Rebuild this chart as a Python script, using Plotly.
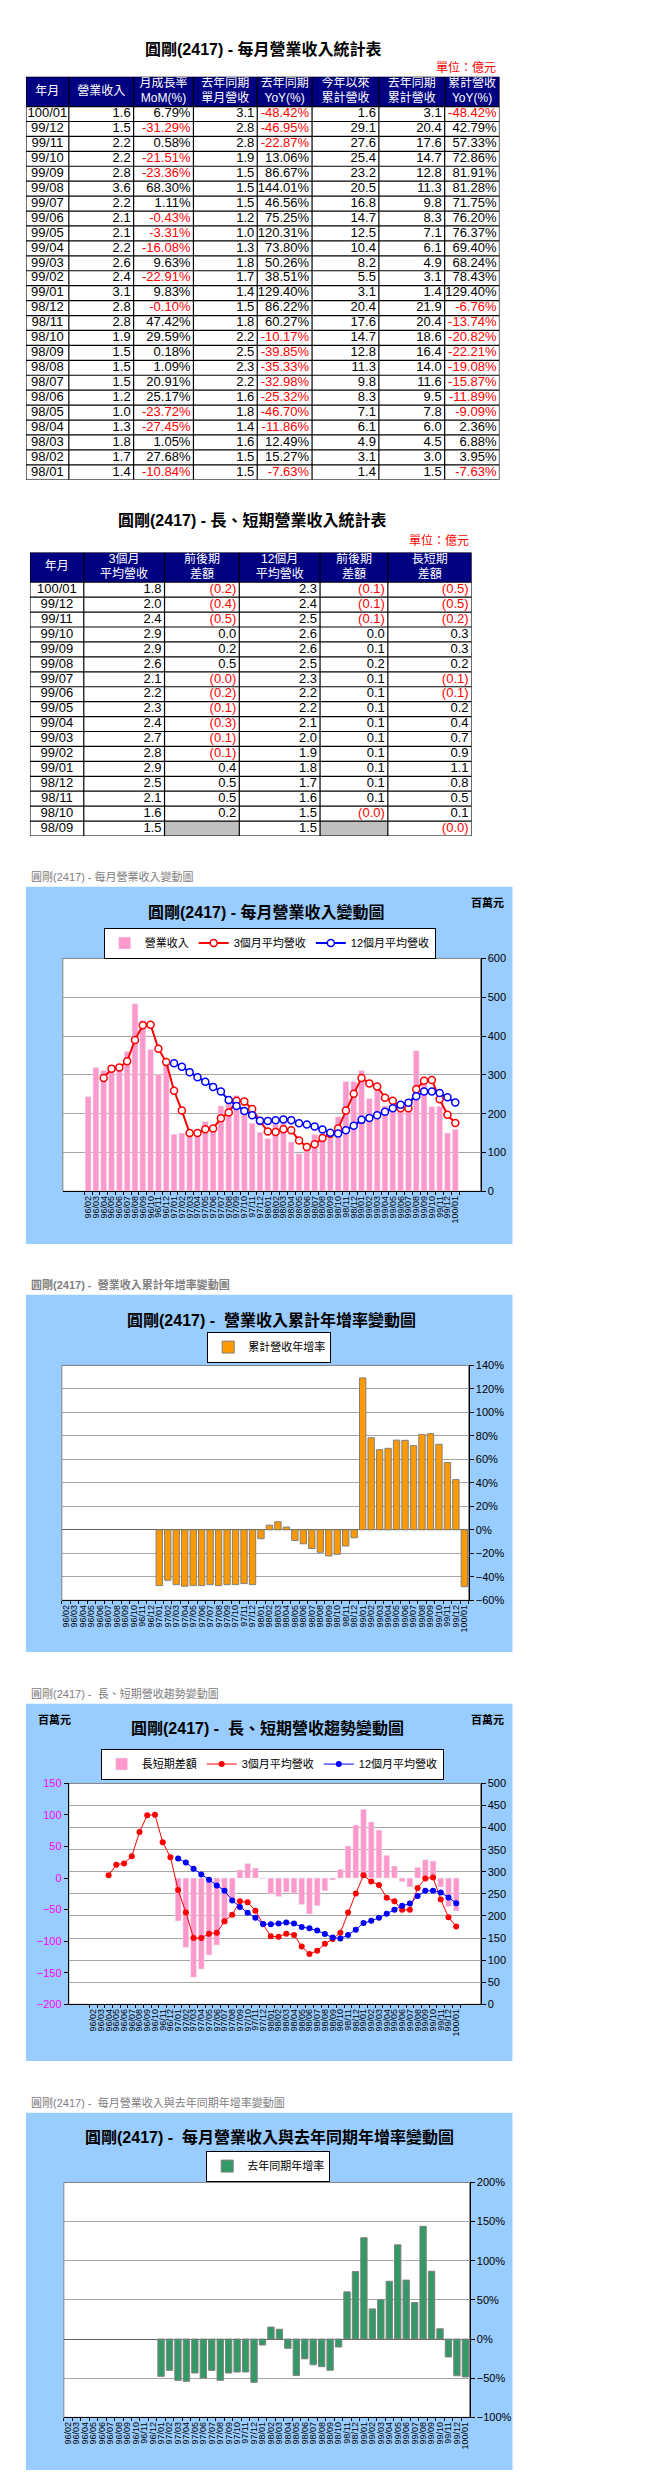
import plotly.graph_objects as go

W, H = 655, 2481

# ---------------- Table 1 data (億元) ----------------
t1_months = ["100/01", "99/12", "99/11", "99/10", "99/09", "99/08", "99/07", "99/06", "99/05",
             "99/04", "99/03", "99/02", "99/01", "98/12", "98/11", "98/10", "98/09", "98/08",
             "98/07", "98/06", "98/05", "98/04", "98/03", "98/02", "98/01"]
t1_revenue = [1.6, 1.5, 2.2, 2.2, 2.8, 3.6, 2.2, 2.1, 2.1, 2.2, 2.6, 2.4, 3.1, 2.8, 2.8, 1.9,
              1.5, 1.5, 1.5, 1.2, 1.0, 1.3, 1.8, 1.7, 1.4]
t1_mom = [6.79, -31.29, 0.58, -21.51, -23.36, 68.30, 1.11, -0.43, -3.31, -16.08, 9.63, -22.91,
          9.83, -0.10, 47.42, 29.59, 0.18, 1.09, 20.91, 25.17, -23.72, -27.45, 1.05, 27.68, -10.84]
t1_ly_rev = [3.1, 2.8, 2.8, 1.9, 1.5, 1.5, 1.5, 1.2, 1.0, 1.3, 1.8, 1.7, 1.4, 1.5, 1.8, 2.2,
             2.5, 2.3, 2.2, 1.6, 1.8, 1.4, 1.6, 1.5, 1.5]
t1_yoy = [-48.42, -46.95, -22.87, 13.06, 86.67, 144.01, 46.56, 75.25, 120.31, 73.80, 50.26,
          38.51, 129.40, 86.22, 60.27, -10.17, -39.85, -35.33, -32.98, -25.32, -46.70, -11.86,
          12.49, 15.27, -7.63]
t1_ytd = [1.6, 29.1, 27.6, 25.4, 23.2, 20.5, 16.8, 14.7, 12.5, 10.4, 8.2, 5.5, 3.1, 20.4, 17.6,
          14.7, 12.8, 11.3, 9.8, 8.3, 7.1, 6.1, 4.9, 3.1, 1.4]
t1_ytd_ly = [3.1, 20.4, 17.6, 14.7, 12.8, 11.3, 9.8, 8.3, 7.1, 6.1, 4.9, 3.1, 1.4, 21.9, 20.4,
             18.6, 16.4, 14.0, 11.6, 9.5, 7.8, 6.0, 4.5, 3.0, 1.5]
t1_ytd_yoy = [-48.42, 42.79, 57.33, 72.86, 81.91, 81.28, 71.75, 76.20, 76.37, 69.40, 68.24,
              78.43, 129.40, -6.76, -13.74, -20.82, -22.21, -19.08, -15.87, -11.89, -9.09, 2.36,
              6.88, 3.95, -7.63]
t1_headers = ["年月", "營業收入", "月成長率<br>MoM(%)", "去年同期<br>單月營收", "去年同期<br>YoY(%)",
              "今年以來<br>累計營收", "去年同期<br>累計營收", "累計營收<br>YoY(%)"]

# ---------------- Table 2 data (億元) ----------------
t2_months = ["100/01", "99/12", "99/11", "99/10", "99/09", "99/08", "99/07", "99/06", "99/05",
             "99/04", "99/03", "99/02", "99/01", "98/12", "98/11", "98/10", "98/09"]
t2_avg3 = [1.8, 2.0, 2.4, 2.9, 2.9, 2.6, 2.1, 2.2, 2.3, 2.4, 2.7, 2.8, 2.9, 2.5, 2.1, 1.6, 1.5]
t2_avg3_diff = [-0.2, -0.4, -0.5, 0.0, 0.2, 0.5, -0.02, -0.2, -0.1, -0.3, -0.1, -0.1, 0.4, 0.5,
                0.5, 0.2, None]
t2_avg12 = [2.3, 2.4, 2.5, 2.6, 2.6, 2.5, 2.3, 2.2, 2.2, 2.1, 2.0, 1.9, 1.8, 1.7, 1.6, 1.5, 1.5]
t2_avg12_diff = [-0.1, -0.1, -0.1, 0.0, 0.1, 0.2, 0.1, 0.1, 0.1, 0.1, 0.1, 0.1, 0.1, 0.1, 0.1,
                 -0.02, None]
t2_ls_diff = [-0.5, -0.5, -0.2, 0.3, 0.3, 0.2, -0.1, -0.1, 0.2, 0.4, 0.7, 0.9, 1.1, 0.8, 0.5,
              0.1, -0.02]
t2_headers = ["年月", "3個月<br>平均營收", "前後期<br>差額", "12個月<br>平均營收", "前後期<br>差額",
              "長短期<br>差額"]

# ---------------- Chart data (百萬元 / %) ----------------
months = ["96/02", "96/03", "96/04", "96/05", "96/06", "96/07", "96/08", "96/09", "96/10",
          "96/11", "96/12", "97/01", "97/02", "97/03", "97/04", "97/05", "97/06", "97/07",
          "97/08", "97/09", "97/10", "97/11", "97/12", "98/01", "98/02", "98/03", "98/04",
          "98/05", "98/06", "98/07", "98/08", "98/09", "98/10", "98/11", "98/12", "99/01",
          "99/02", "99/03", "99/04", "99/05", "99/06", "99/07", "99/08", "99/09", "99/10",
          "99/11", "99/12", "100/01"]
rev_m = [244, 319, 311, 318, 326, 360, 483, 440, 365, 301, 329, 147, 150, 153, 147, 180, 160,
         220, 229, 247, 217, 175, 152, 136, 173, 175, 127, 97, 121, 146, 148, 148, 192, 283,
         283, 311, 239, 262, 220, 213, 212, 215, 362, 278, 218, 219, 150, 160]
avg3_m = [None, None, 292, 316, 319, 335, 390, 428, 429, 367, 333, 259, 208, 150, 150, 160, 162,
          188, 203, 233, 231, 212, 181, 154, 153, 160, 157, 131, 114, 121, 137, 148, 162, 208,
          251, 292, 278, 270, 241, 233, 214, 214, 263, 285, 287, 237, 197, 176]
avg12_m = [None] * 11 + [330, 321, 307, 294, 282, 269, 257, 235, 220, 207, 196, 182, 181, 183,
                         185, 183, 175, 172, 167, 159, 151, 149, 157, 169, 184, 189, 196, 205,
                         214, 223, 228, 245, 257, 257, 253, 242, 229]
ls_diff_m = [None] * 11 + [-68, -110, -157, -144, -122, -106, -73, -33, 13, 23, 16, -1, -25,
                           -29, -22, -24, -42, -57, -44, -20, -3, 14, 51, 84, 109, 89, 76, 36,
                           19, -6, -14, 17, 29, 27, -14, -45, -52]
cum_yoy = [None] * 11 + [-47.5, -43.0, -46.7, -48.0, -47.5, -47.5, -46.7, -47.5, -46.7, -46.7,
                         -45.8, -46.7, -7.63, 3.95, 6.88, 2.36, -9.09, -11.89, -15.87, -19.08,
                         -22.21, -20.82, -13.74, -6.76, 129.40, 78.43, 68.24, 69.40, 76.37,
                         76.20, 71.75, 81.28, 81.91, 72.86, 57.33, 42.79, -48.42]
mon_yoy = [None] * 11 + [-47.7, -40.0, -52.8, -54.0, -43.4, -49.8, -40.0, -52.8, -43.4, -42.1,
                         -42.1, -55.3, -7.63, 15.27, 12.49, -11.86, -46.70, -25.32, -32.98,
                         -35.33, -39.85, -10.17, 60.27, 86.22, 129.40, 38.51, 50.26, 73.80,
                         120.31, 75.25, 46.56, 144.01, 86.67, 13.06, -22.87, -46.95, -48.42]

# ---------------- helpers ----------------
FONT = "Tahoma, 'Liberation Sans Narrow', 'Liberation Sans', 'Noto Sans CJK TC', sans-serif"
CJK = "'Liberation Sans', 'Noto Sans CJK TC', sans-serif"
BLUE_BG = "#99CCFF"
GRID = "#A6A6A6"


def xp(v):
    return v / W


def yp(v):
    return 1 - v / H


def red_black(vals):
    return ["#FF0000" if (v is not None and v < 0) else "#000000" for v in vals]


def pct(vals):
    return [f"{v:.2f}%" for v in vals]


def one(vals):
    return [f"{v:.1f}" for v in vals]


def paren(vals):
    out = []
    for v in vals:
        if v is None:
            out.append("")
        elif v < 0:
            out.append(f"({abs(v):.1f})")
        else:
            out.append(f"{v:.1f}")
    return out


fig = go.Figure()
shapes = []
annotations = []
layout_axes = {}


def add_table(xa, ya, box, col_widths, headers, columns, colors, fills):
    """Draw a table on its own hidden axes: x in pixels, y in row units (header = 2 rows)."""
    x0, y0, x1, y1 = box
    n = len(columns[0])
    total_w = sum(col_widths)
    n_units = n + 2
    xname = "xaxis" + xa[1:]
    yname = "yaxis" + ya[1:]
    layout_axes[xname] = dict(domain=[xp(x0), xp(x1)], range=[0, total_w], anchor=ya,
                              visible=False, fixedrange=True)
    layout_axes[yname] = dict(domain=[yp(y1), yp(y0)], range=[n_units, 0], anchor=xa,
                              visible=False, fixedrange=True)
    edges = [0]
    for w in col_widths:
        edges.append(edges[-1] + w)
    shapes.append(dict(type="rect", xref=xa, yref=ya, x0=0, x1=total_w, y0=0, y1=2,
                       fillcolor="#000080", line=dict(width=0), layer="below"))
    shapes.append(dict(type="rect", xref=xa, yref=ya, x0=0, x1=total_w, y0=2, y1=n_units,
                       fillcolor="white", line=dict(width=0), layer="below"))
    for c, col_fill in enumerate(fills):
        for r, f in enumerate(col_fill):
            if f != "white":
                shapes.append(dict(type="rect", xref=xa, yref=ya, x0=edges[c], x1=edges[c + 1],
                                   y0=r + 2, y1=r + 3, fillcolor=f, line=dict(width=0),
                                   layer="below"))
    for yy in [0] + list(range(2, n_units + 1)):
        shapes.append(dict(type="line", xref=xa, yref=ya, x0=0, x1=total_w, y0=yy, y1=yy,
                           line=dict(color="black", width=1.2)))
    for e in edges:
        shapes.append(dict(type="line", xref=xa, yref=ya, x0=e, x1=e, y0=0, y1=n_units,
                           line=dict(color="black", width=1.2)))
    centers = [(edges[i] + edges[i + 1]) / 2 for i in range(len(col_widths))]
    fig.add_trace(go.Scatter(x=centers, y=[1] * len(headers), text=headers, mode="text",
                             textposition="middle center", cliponaxis=False,
                             textfont=dict(color="white", size=12, family=FONT),
                             xaxis=xa, yaxis=ya, showlegend=False, hoverinfo="skip"))
    rows_y = [r + 2.5 for r in range(n)]
    for c, vals in enumerate(columns):
        if c == 0:
            xs = [centers[c]] * n
            pos = "middle center"
        else:
            xs = [edges[c + 1] - 3] * n
            pos = "middle left"
        fig.add_trace(go.Scatter(x=xs, y=rows_y, text=vals, mode="text", textposition=pos,
                                 cliponaxis=False,
                                 textfont=dict(color=colors[c], size=13, family=FONT),
                                 xaxis=xa, yaxis=ya, showlegend=False, hoverinfo="skip"))


# ---------------- Table 1 ----------------
n1 = len(t1_months)
blk1 = ["#000000"] * n1
t1_cols = [t1_months, one(t1_revenue), pct(t1_mom), one(t1_ly_rev), pct(t1_yoy), one(t1_ytd),
           one(t1_ytd_ly), pct(t1_ytd_yoy)]
t1_fc = [blk1, blk1, red_black(t1_mom), blk1, red_black(t1_yoy), blk1, blk1,
         red_black(t1_ytd_yoy)]
add_table("x5", "y6", (17, 63, 492, 468), [43, 65, 60, 64, 55, 67, 66, 55], t1_headers,
          t1_cols, t1_fc, [["white"] * n1] * 8)

# ---------------- Table 2 ----------------
n2 = len(t2_months)
blk2 = ["#000000"] * n2
t2_cols = [t2_months, one(t2_avg3), paren(t2_avg3_diff), one(t2_avg12), paren(t2_avg12_diff),
           paren(t2_ls_diff)]
t2_fc = [blk2, blk2, red_black(t2_avg3_diff), blk2, red_black(t2_avg12_diff),
         red_black(t2_ls_diff)]
t2_fill = [["white"] * n2, ["white"] * n2,
           ["#C0C0C0" if v is None else "white" for v in t2_avg3_diff], ["white"] * n2,
           ["#C0C0C0" if v is None else "white" for v in t2_avg12_diff], ["white"] * n2]
add_table("x6", "y7", (21, 541, 464, 826), [54, 81, 75, 81, 68, 84], t2_headers, t2_cols,
          t2_fc, t2_fill)

# ---------------- Chart 1 ----------------
fig.add_trace(go.Bar(x=months, y=rev_m, name="營業收入", marker=dict(color="#FF99CC"),
                     xaxis="x", yaxis="y", legend="legend"))
fig.add_trace(go.Scatter(x=months, y=avg3_m, name="3個月平均營收", mode="lines+markers",
                         line=dict(color="#FF0000", width=2),
                         marker=dict(symbol="circle", size=7, color="white",
                                     line=dict(color="#FF0000", width=1.5)),
                         xaxis="x", yaxis="y", legend="legend"))
fig.add_trace(go.Scatter(x=months, y=avg12_m, name="12個月平均營收", mode="lines+markers",
                         line=dict(color="#0000FF", width=2),
                         marker=dict(symbol="circle", size=7, color="white",
                                     line=dict(color="#0000FF", width=1.5)),
                         xaxis="x", yaxis="y", legend="legend"))

# ---------------- Chart 2 ----------------
fig.add_trace(go.Bar(x=months, y=cum_yoy, name="累計營收年增率",
                     marker=dict(color="#FF9900", line=dict(color="#808080", width=1)),
                     xaxis="x2", yaxis="y2", legend="legend2"))

# ---------------- Chart 3 ----------------
fig.add_trace(go.Bar(x=months, y=ls_diff_m, name="長短期差額", marker=dict(color="#FF99CC"),
                     xaxis="x3", yaxis="y3", legend="legend3"))
fig.add_trace(go.Scatter(x=months, y=avg3_m, name="3個月平均營收", mode="lines+markers",
                         line=dict(color="#FF0000", width=1),
                         marker=dict(symbol="circle", size=6, color="#FF0000"),
                         xaxis="x3", yaxis="y4", legend="legend3"))
fig.add_trace(go.Scatter(x=months, y=avg12_m, name="12個月平均營收", mode="lines+markers",
                         line=dict(color="#0000FF", width=1),
                         marker=dict(symbol="circle", size=6, color="#0000FF"),
                         xaxis="x3", yaxis="y4", legend="legend3"))

# ---------------- Chart 4 ----------------
fig.add_trace(go.Bar(x=months, y=mon_yoy, name="去年同期年增率",
                     marker=dict(color="#339966", line=dict(color="#808080", width=1)),
                     xaxis="x4", yaxis="y5", legend="legend4"))


def xaxis(domain, anchor):
    return dict(domain=[xp(domain[0]), xp(domain[1])], anchor=anchor, type="category",
                categoryorder="array", categoryarray=months, tickmode="linear", tick0=0,
                dtick=1, tickangle=-90,
                tickfont=dict(size=9, family="'Liberation Sans', sans-serif", color="black"),
                showline=True, linecolor="black", linewidth=1, ticks="outside",
                tickson="boundaries", ticklen=3, tickcolor="black", showgrid=False,
                zeroline=False, fixedrange=True)


def yaxis(domain, anchor, rng, dtick, side="right", suffix="", grid=True, zl=False,
          tickcolor="black"):
    return dict(domain=[yp(domain[1]), yp(domain[0])], anchor=anchor, side=side, range=rng,
                dtick=dtick, ticksuffix=suffix, showgrid=grid, gridcolor=GRID, gridwidth=1,
                showline=True, linecolor="black", linewidth=1, ticks="outside", ticklen=4,
                tickcolor="black", zeroline=zl, zerolinecolor="#606060", zerolinewidth=1,
                tickfont=dict(size=11, family=FONT, color=tickcolor), fixedrange=True)


def legend(cx, top):
    return dict(x=xp(cx), xanchor="center", y=yp(top), yanchor="top", orientation="h",
                bgcolor="white", bordercolor="black", borderwidth=1,
                font=dict(size=11, family=CJK, color="black"), itemclick=False,
                tracegroupgap=0)


panels = [(17, 877, 505, 1236), (17, 1287, 505, 1646), (17, 1698, 505, 2057),
          (17, 2109, 505, 2468)]
plots = [(54, 949, 473, 1183), (53, 1358, 461, 1594), (60, 1778, 473, 2000),
         (55, 2179, 462, 2415)]
for (x0, y0, x1, y1) in panels:
    shapes.append(dict(type="rect", xref="paper", yref="paper", x0=xp(x0), x1=xp(x1),
                       y0=yp(y1), y1=yp(y0), fillcolor=BLUE_BG, line=dict(width=0),
                       layer="below"))
for (x0, y0, x1, y1) in plots:
    shapes.append(dict(type="rect", xref="paper", yref="paper", x0=xp(x0), x1=xp(x1),
                       y0=yp(y1), y1=yp(y0), fillcolor="white",
                       line=dict(width=1, color="#808080"), layer="below"))


def text(x, y, s, size=12, color="black", bold=False, xanchor="center", family=CJK):
    annotations.append(dict(x=xp(x), y=yp(y), xref="paper", yref="paper",
                            text=f"<b>{s}</b>" if bold else s, showarrow=False,
                            xanchor=xanchor, yanchor="middle",
                            font=dict(size=size, color=color, family=family)))


text(255, 35, "圓剛(2417) - 每月營業收入統計表", size=16, bold=True)
text(490, 54, "單位：億元", size=12, color="#FF0000", xanchor="right")
text(244, 508, "圓剛(2417) - 長、短期營業收入統計表", size=16, bold=True)
text(463, 529, "單位：億元", size=12, color="#FF0000", xanchor="right")

text(20, 867, "圓剛(2417) - 每月營業收入變動圖", size=11, color="#808080", xanchor="left")
text(258, 902, "圓剛(2417) - 每月營業收入變動圖", size=16, bold=True)
text(480, 893, "百萬元", size=11, bold=True)

text(20, 1277, "圓剛(2417) -  營業收入累計年增率變動圖", size=11, color="#808080",
     bold=True, xanchor="left")
text(263, 1312, "圓剛(2417) -  營業收入累計年增率變動圖", size=16, bold=True)

text(20, 1688, "圓剛(2417) -  長、短期營收趨勢變動圖", size=11, color="#808080", xanchor="left")
text(259, 1722, "圓剛(2417) -  長、短期營收趨勢變動圖", size=16, bold=True)
text(46, 1714, "百萬元", size=11, bold=True)
text(480, 1714, "百萬元", size=11, bold=True)

text(20, 2099, "圓剛(2417) -  每月營業收入與去年同期年增率變動圖", size=11, color="#808080",
     xanchor="left")
text(261, 2133, "圓剛(2417) -  每月營業收入與去年同期年增率變動圖", size=16, bold=True)

fig.update_layout(
    width=W, height=H, autosize=False,
    margin=dict(l=0, r=0, t=0, b=0, pad=0),
    paper_bgcolor="white", plot_bgcolor="rgba(0,0,0,0)",
    font=dict(family=FONT, color="black"),
    bargap=0.25,
    showlegend=True,
    xaxis=xaxis((54, 473), "y"),
    yaxis=yaxis((949, 1183), "x", [0, 600], 100),
    xaxis2=xaxis((53, 461), "y2"),
    yaxis2=yaxis((1358, 1594), "x2", [-60, 140], 20, suffix="%", zl=True),
    xaxis3=xaxis((60, 473), "y3"),
    yaxis3=yaxis((1778, 2000), "x3", [-200, 150], 50, side="left", grid=False,
                 tickcolor="#FF00FF"),
    yaxis4=dict(yaxis((1778, 2000), "x3", [0, 500], 50), overlaying="y3"),
    xaxis4=xaxis((55, 462), "y5"),
    yaxis5=yaxis((2179, 2415), "x4", [-100, 200], 50, suffix="%", zl=True),
    legend=legend(261.5, 918),
    legend2=legend(261, 1324),
    legend3=legend(264, 1743),
    legend4=legend(260, 2147),
    shapes=shapes,
    annotations=annotations,
    **layout_axes,
)

fig.write_html("out.html")
